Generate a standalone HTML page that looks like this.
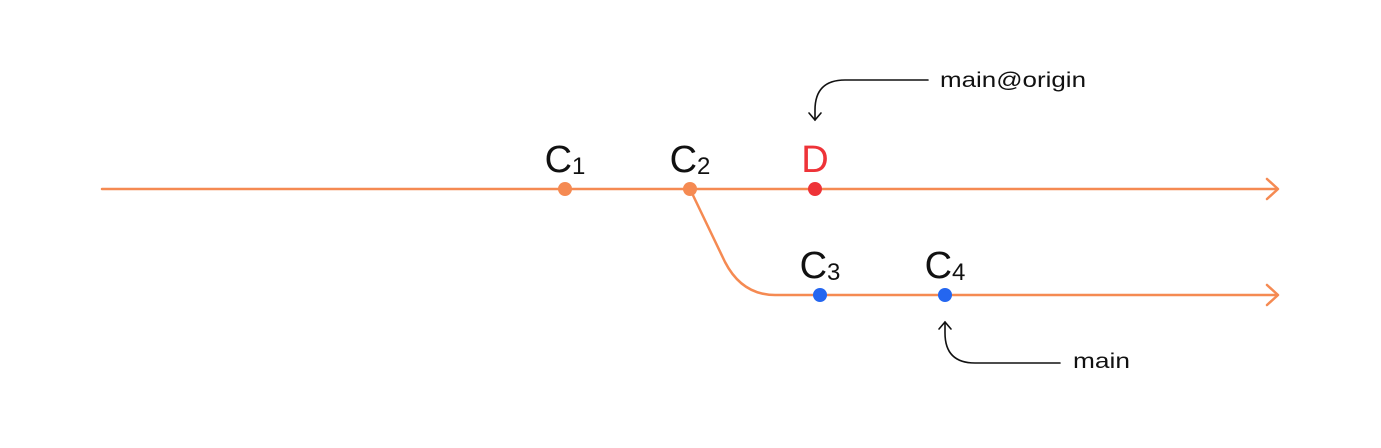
<!DOCTYPE html>
<html><head><meta charset="utf-8"><style>
html,body{margin:0;padding:0;background:#fff;}
svg{display:block;}
text{font-family:"Liberation Sans","DejaVu Sans",sans-serif;}
</style></head><body>
<svg id="chart" width="1381" height="448" viewBox="0 0 1381 448" xmlns="http://www.w3.org/2000/svg">
  <g fill="none" stroke="#f58a52" stroke-width="2.5" stroke-linecap="round" stroke-linejoin="round">
    <line x1="102" y1="189" x2="1277" y2="189"/>
    <polyline points="1267,179 1278,189 1267,199"/>
    <path d="M690,189 L725,262 Q742,295 775,295 L1277,295"/>
    <polyline points="1267,285 1278,295 1267,305"/>
  </g>
  <g id="points"></g>
  <g fill="none" stroke="#111" stroke-width="1.6" stroke-linecap="round">
    <path d="M928,80 L845,80 Q815,80 815,110 L815,120"/>
    <polyline points="809,113 815,120 821,113"/>
    <path d="M1060,363 L975,363 Q945,363 945,333 L945,322"/>
    <polyline points="939,329 945,322 951,329"/>
  </g>
  <text x="940" y="87" font-size="21" fill="#111" textLength="146" lengthAdjust="spacingAndGlyphs">main@origin</text>
  <text x="1073" y="368" font-size="21" fill="#111" textLength="57" lengthAdjust="spacingAndGlyphs">main</text>
</svg>
<script>
const commitNames = ["C", "C", "D", "C", "C"];
const commitSubs = ["1", "2", "", "3", "4"];
const commitX = [565, 690, 815, 820, 945];
const commitRow = [0, 0, 0, 1, 1];
const commitColor = ["#f58a52", "#f58a52", "#ee3338", "#2466f0", "#2466f0"];
const rowY = r => 189 + r * 106;
const g = document.getElementById('points');
const ns = "http://www.w3.org/2000/svg";
for (let i = 0; i < commitX.length; i++) {
  const x = commitX[i], y = rowY(commitRow[i]);
  const c = document.createElementNS(ns, 'circle');
  c.setAttribute('cx', x); c.setAttribute('cy', y); c.setAttribute('r', 7);
  c.setAttribute('fill', commitColor[i]);
  
  
  g.appendChild(c);
  const t = document.createElementNS(ns, 'text');
  t.setAttribute('x', x); t.setAttribute('y', y - 17);
  t.setAttribute('text-anchor', 'middle');
  t.setAttribute('font-size', '38');
  t.setAttribute('fill', commitNames[i] === 'D' ? '#ee3338' : '#111');
  t.textContent = commitNames[i];
  if (commitSubs[i]) {
    const s = document.createElementNS(ns, 'tspan');
    s.setAttribute('font-size', '24');
    s.setAttribute('dy', '2');
    s.textContent = commitSubs[i];
    t.appendChild(s);
  }
  
  
  g.appendChild(t);
}
</script>
</body></html>
